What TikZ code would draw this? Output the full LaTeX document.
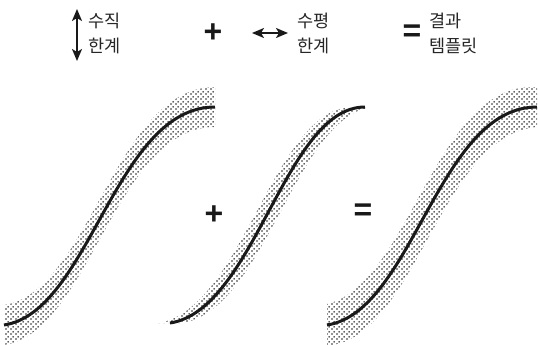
\documentclass[tikz,border=0pt]{standalone}
\usepackage{fontspec}
\setmainfont{Noto Sans CJK KR}
\newfontfamily\symfont{Liberation Sans}
\usetikzlibrary{arrows.meta,patterns}
\pgfdeclarepatternformonly{refdots}{\pgfpointorigin}{\pgfpoint{4.6pt}{4.6pt}}{\pgfpoint{4.6pt}{4.6pt}}{%
  \pgfpathcircle{\pgfpoint{1.15pt}{1.15pt}}{0.95pt}%
  \pgfpathcircle{\pgfpoint{3.45pt}{3.45pt}}{0.95pt}%
  \pgfusepath{fill}}
\begin{document}
\begin{tikzpicture}[x=1pt,y=-1pt,
  band/.style={pattern=refdots, pattern color=black!85},
  curve/.style={line width=3pt, draw=black!90},
  lbl/.style={anchor=west, align=left, inner sep=0pt, font=\fontsize{17.5}{25}\selectfont, text=black!85},
  op/.style={inner sep=0pt, font=\symfont\bfseries\fontsize{32}{32}\selectfont, text=black!90},
  dbl/.style={{Stealth[length=12pt,width=10pt,inset=3pt]}-{Stealth[length=12pt,width=10pt,inset=3pt]}, line width=1.8pt, draw=black!90}]
\useasboundingbox (0,0) rectangle (538,345);
% curve 1: vertical tolerance
\fill[band] (4,305) .. controls (90,292) and (115,87) .. (215,87) -- (215,127) .. controls (115,127) and (90,332) .. (4,345) -- cycle;
\draw[curve] (4,325) .. controls (90,312) and (115,107) .. (215,107);
% curve 2: horizontal tolerance
\fill[band] (158,323) .. controls (243,310) and (273,107) .. (353,107) -- (377,107) .. controls (297,107) and (267,310) .. (182,323) -- cycle;
\draw[curve] (170,323) .. controls (255,310) and (285,107) .. (365,107);
% curve 3: result
\begin{scope}
\clip (327,0) rectangle (537,345);
\fill[band] (322,305) .. controls (408,292) and (433,87) .. (532,87) -- (542,87) -- (542,127) .. controls (443,127) and (418,332) .. (332,345) -- (322,345) -- cycle;
\end{scope}
\draw[curve] (327,325) .. controls (413,312) and (438,107) .. (537,107);
% top legend
\coordinate (vt) at (77,9);
\coordinate (vb) at (77,61);
\draw[dbl] (vt) -- (vb);
\node[lbl] (v) at (88,33) {수직\\한계};
\node[op] (p1) at (213,33) {+};
\coordinate (hl) at (252,33);
\coordinate (hr) at (288,33);
\draw[dbl] (hl) -- (hr);
\node[lbl] (h) at (297,33) {수평\\한계};
\node[op] (e1) at (412,33) {=};
\node[lbl] (r) at (429,33) {결과\\템플릿};
% operators between curves
\node[op] (p2) at (214,215) {+};
\node[op] (e2) at (363,212) {=};
\end{tikzpicture}
\end{document}
